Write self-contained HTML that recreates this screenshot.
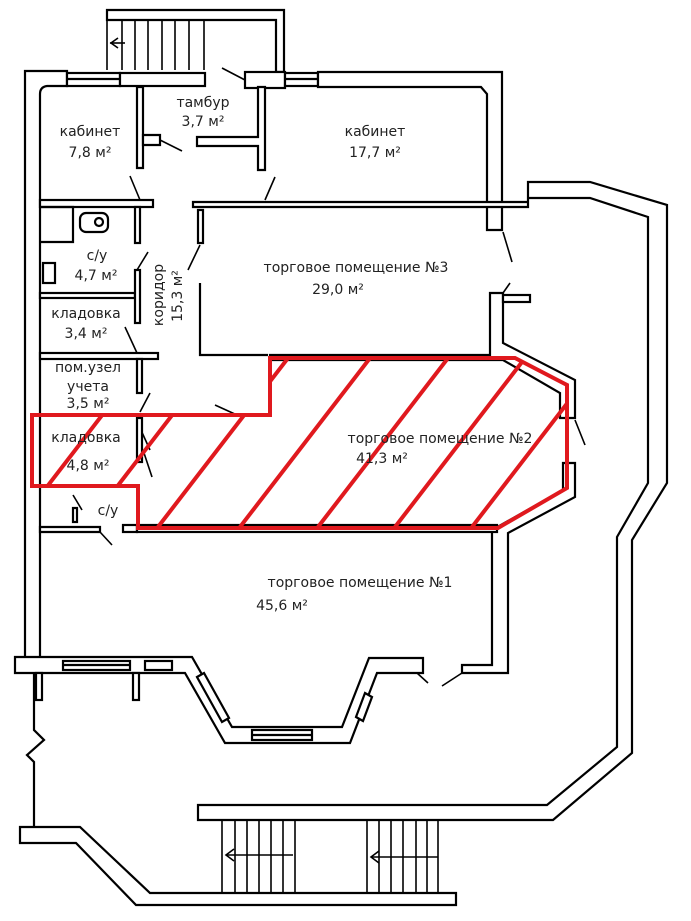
<!DOCTYPE html>
<html><head><meta charset="utf-8"><style>
html,body{margin:0;padding:0;background:#fff;}
svg{display:block;}
text{font-family:"DejaVu Sans","Liberation Sans",sans-serif;font-size:14px;fill:#222;text-anchor:middle;}
</style></head><body>
<svg width="691" height="921" viewBox="0 0 691 921" xmlns="http://www.w3.org/2000/svg">
<g fill="#fff" stroke="#000" stroke-width="2.2" stroke-linejoin="miter">
<path d="M107,10 H284 V72 H276 V20 H107 Z"/>
<g stroke-width="1.6"><line x1="107" y1="20" x2="107" y2="70"/><line x1="122" y1="20" x2="122" y2="70"/><line x1="135" y1="20" x2="135" y2="70"/><line x1="148" y1="20" x2="148" y2="70"/><line x1="162" y1="20" x2="162" y2="70"/><line x1="175" y1="20" x2="175" y2="70"/><line x1="189" y1="20" x2="189" y2="70"/><line x1="204" y1="20" x2="204" y2="70"/><line x1="110" y1="43" x2="125" y2="43"/><path d="M118,38 L111,43 L118,48" fill="none"/></g>
<path d="M25,660 V71 H67 V86 H47 Q40,87 40,94 V657 Z"/>
<rect x="67" y="73" width="53" height="13"/><line x1="67" y1="79" x2="120" y2="79"/>
<rect x="120" y="73" width="85" height="13"/>
<rect x="245" y="72" width="40" height="16"/>
<rect x="285" y="73" width="33" height="13"/><line x1="285" y1="79" x2="318" y2="79"/>
<path d="M318,72 H502 V230 H487 V94 L481,87 H318 Z"/>
<path d="M137,87 H143 V168 H137 Z"/><path d="M143,135 H160 V145 H143 Z"/>
<path d="M197,137 H258 V87 H265 V170 H258 V146 H197 Z"/>
<g stroke-width="1.6"><line x1="160" y1="140" x2="182" y2="151"/><line x1="222" y1="68" x2="245" y2="80"/><line x1="130" y1="176" x2="140" y2="200"/><line x1="275" y1="177" x2="265" y2="200"/></g>
<rect x="40" y="200" width="113" height="7"/>
<path d="M193,202 H528 V182 H590 L667,205 V483 L632,540 V753 L553,820 H198 V805 H547 L617,747 V537 L648,483 V217 L590,198 H528 V207 H193 Z"/>
<path d="M40,207 H73 V242 H40" fill="none"/>
<rect x="80" y="213" width="28" height="19" rx="6"/><circle cx="99" cy="222" r="4"/>
<rect x="43" y="263" width="12" height="20"/>
<rect x="135" y="207" width="5" height="36"/>
<rect x="40" y="293" width="95" height="5"/><rect x="135" y="270" width="5" height="53"/>
<rect x="40" y="353" width="118" height="6"/><rect x="137" y="359" width="5" height="34"/>
<g stroke-width="1.6"><line x1="137" y1="270" x2="148" y2="252"/><line x1="125" y1="327" x2="137" y2="353"/><line x1="140" y1="412" x2="150" y2="393"/><line x1="215" y1="405" x2="237" y2="415"/><line x1="143" y1="450" x2="152" y2="477"/><line x1="140" y1="428" x2="150" y2="450"/></g>
<rect x="137" y="418" width="5" height="44"/>
<rect x="198" y="210" width="5" height="33"/>
<path d="M200,283 V355 H268" fill="none"/>
<line x1="200" y1="245" x2="188" y2="270" stroke-width="1.6"/>
<path d="M270,355 H490 V293 H503 V343 L575,380 V418 H560 V393 L503,360 H270 Z"/>
<rect x="503" y="295" width="27" height="7"/>
<line x1="503" y1="232" x2="512" y2="262" stroke-width="1.6"/>
<line x1="503" y1="293" x2="510" y2="283" stroke-width="1.6"/>
<line x1="575" y1="420" x2="585" y2="445" stroke-width="1.6"/>
<path d="M563,463 H575 V497 L508,533 V673 H462 V665 H492 V530 L563,490 Z"/>
<path d="M40,527 H100 V532 H40 Z"/><rect x="123" y="525" width="14" height="7"/>
<rect x="137" y="525" width="360" height="7"/>
<rect x="73" y="508" width="4" height="14"/>
<g stroke-width="1.6"><line x1="73" y1="495" x2="82" y2="510"/><line x1="100" y1="532" x2="112" y2="545"/><line x1="417" y1="673" x2="428" y2="683"/><line x1="462" y1="673" x2="442" y2="686"/></g>
<!-- bottom wall room1 with bay -->
<path d="M15,657 H192 L232,727 H342 L369,658 H423 V673 H377 L350,743 H225 L185,673 H15 Z"/>
<rect x="63" y="661" width="67" height="9"/><line x1="63" y1="665" x2="130" y2="665"/>
<rect x="145" y="661" width="27" height="9"/>
<rect x="252" y="730" width="60" height="10"/><line x1="252" y1="735" x2="312" y2="735"/>
<path d="M197,677 L204,673 L229,718 L222,722 Z"/>
<path d="M356,717 L363,721 L372,697 L365,693 Z"/>
<rect x="36" y="673" width="6" height="27"/><rect x="133" y="673" width="6" height="27"/>
<path d="M34,673 V730 L44,740 L27,755 L34,762 V826" fill="none"/>
<path d="M20,827 H80 L150,893 H456 V905 H136 L76,843 H20 Z"/>
<g stroke-width="1.6">
<line x1="222" y1="820" x2="222" y2="893"/><line x1="235" y1="820" x2="235" y2="893"/><line x1="247" y1="820" x2="247" y2="893"/><line x1="259" y1="820" x2="259" y2="893"/><line x1="271" y1="820" x2="271" y2="893"/><line x1="283" y1="820" x2="283" y2="893"/><line x1="295" y1="820" x2="295" y2="893"/>
<line x1="226" y1="855" x2="293" y2="855"/><path d="M234,849 L226,855 L234,861" fill="none"/>
<line x1="367" y1="820" x2="367" y2="893"/><line x1="379" y1="820" x2="379" y2="893"/><line x1="391" y1="820" x2="391" y2="893"/><line x1="403" y1="820" x2="403" y2="893"/><line x1="416" y1="820" x2="416" y2="893"/><line x1="427" y1="820" x2="427" y2="893"/><line x1="438" y1="820" x2="438" y2="893"/>
<line x1="371" y1="857" x2="438" y2="857"/><path d="M379,851 L371,857 L379,863" fill="none"/>
</g>
</g>
<defs><clipPath id="c"><path d="M32,415 H270 V358 H515 L567,385 V488 L498,528 H138 V486 H32 Z"/></clipPath></defs>
<g stroke="#e0191e" stroke-width="4" fill="none">
<g clip-path="url(#c)">
<line x1="16" y1="527" x2="163" y2="336"/><line x1="86" y1="527" x2="233" y2="336"/><line x1="158" y1="527" x2="305" y2="336"/><line x1="240" y1="527" x2="387" y2="336"/><line x1="318" y1="527" x2="465" y2="336"/><line x1="395" y1="527" x2="542" y2="336"/><line x1="472" y1="527" x2="619" y2="336"/>
</g>
<path d="M32,415 H270 V358 H515 L567,385 V488 L498,528 H138 V486 H32 Z"/>
</g>
<text x="203" y="107">тамбур</text><text x="203" y="126">3,7 м²</text>
<text x="90" y="136">кабинет</text><text x="90" y="157">7,8 м²</text>
<text x="375" y="136">кабинет</text><text x="375" y="157">17,7 м²</text>
<text x="97" y="260">с/у</text><text x="96" y="280">4,7 м²</text>
<text transform="translate(163,295) rotate(-90)">коридор</text>
<text transform="translate(182,296) rotate(-90)">15,3 м²</text>
<text x="86" y="318">кладовка</text><text x="86" y="338">3,4 м²</text>
<text x="88" y="372">пом.узел</text><text x="88" y="391">учета</text><text x="88" y="408">3,5 м²</text>
<text x="86" y="442">кладовка</text><text x="88" y="470">4,8 м²</text>
<text x="108" y="515">с/у</text>
<text x="356" y="272">торговое помещение №3</text><text x="338" y="294">29,0 м²</text>
<text x="440" y="443">торговое помещение  №2</text><text x="382" y="463">41,3 м²</text>
<text x="360" y="587">торговое помещение  №1</text><text x="282" y="610">45,6 м²</text>
</svg>
</body></html>
